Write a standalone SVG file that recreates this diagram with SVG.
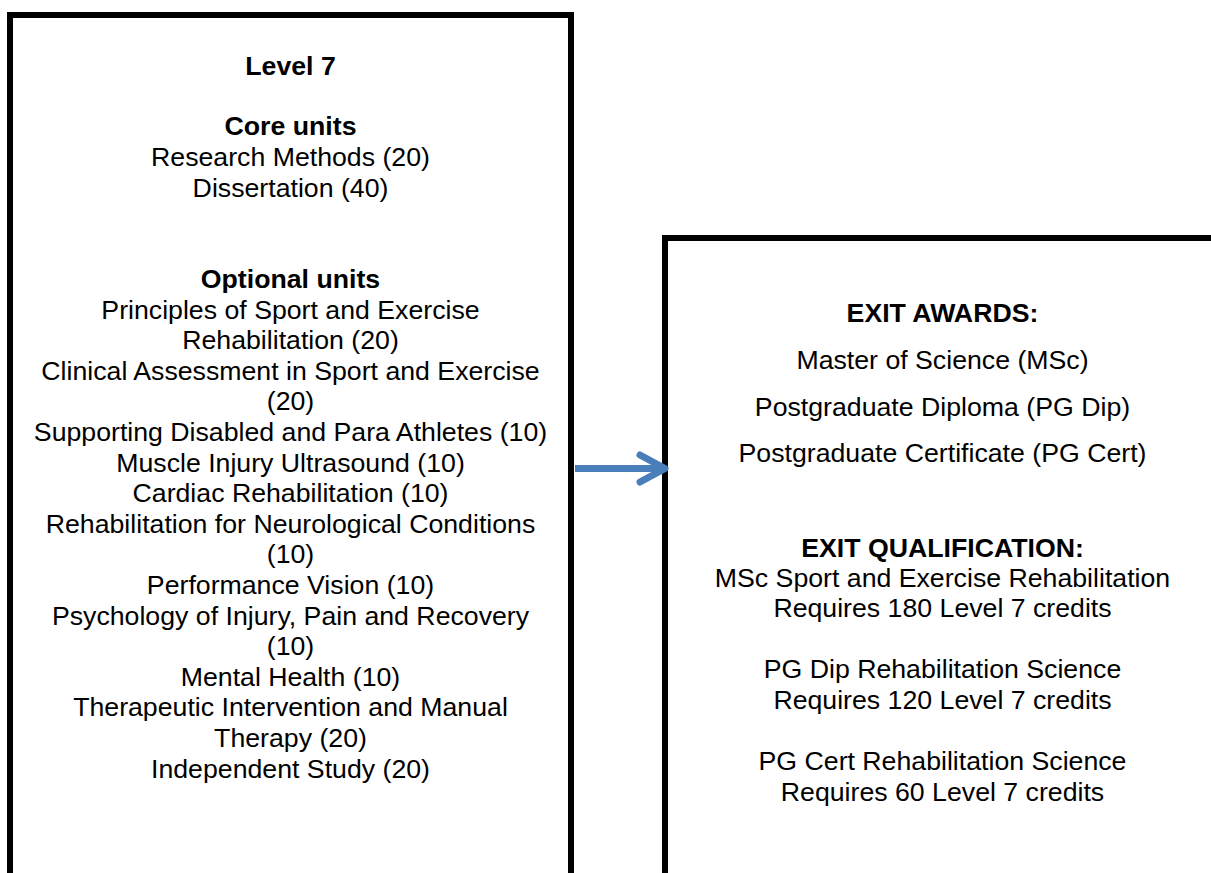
<svg xmlns="http://www.w3.org/2000/svg" width="1211" height="873" viewBox="0 0 1211 873">
<style>
.box{fill:#fff;stroke:#000;stroke-width:6}
text{font-family:"Liberation Sans",Arial,sans-serif;font-size:26.7px;fill:#000;text-anchor:middle}
.b{font-weight:bold}
.arr{fill:none;stroke:#4a7ebb;stroke-width:7}
</style>
<rect width="1211" height="873" fill="#fff"/>
<g id="level7">
<rect class="box" x="10" y="15" width="561" height="900"/>
<text x="290.5" y="75" class="b">Level 7</text>
<text x="290.5" y="135" class="b">Core units</text>
<text x="290.5" y="166">Research Methods (20)</text>
<text x="290.5" y="197">Dissertation (40)</text>
<text x="290.5" y="288" class="b">Optional units</text>
<text x="290.5" y="318.6">Principles of Sport and Exercise</text>
<text x="290.5" y="349.2">Rehabilitation (20)</text>
<text x="290.5" y="379.8">Clinical Assessment in Sport and Exercise</text>
<text x="290.5" y="410.4">(20)</text>
<text x="290.5" y="441">Supporting Disabled and Para Athletes (10)</text>
<text x="290.5" y="471.6">Muscle Injury Ultrasound (10)</text>
<text x="290.5" y="502.2">Cardiac Rehabilitation (10)</text>
<text x="290.5" y="532.8">Rehabilitation for Neurological Conditions</text>
<text x="290.5" y="563.4">(10)</text>
<text x="290.5" y="594">Performance Vision (10)</text>
<text x="290.5" y="624.6">Psychology of Injury, Pain and Recovery</text>
<text x="290.5" y="655.2">(10)</text>
<text x="290.5" y="685.8">Mental Health (10)</text>
<text x="290.5" y="716.4">Therapeutic Intervention and Manual</text>
<text x="290.5" y="747">Therapy (20)</text>
<text x="290.5" y="777.6">Independent Study (20)</text>
</g>
<g id="exit">
<rect class="box" x="665" y="238" width="560" height="700"/>
<text x="942.5" y="322" class="b">EXIT AWARDS:</text>
<text x="942.5" y="369">Master of Science (MSc)</text>
<text x="942.5" y="416">Postgraduate Diploma (PG Dip)</text>
<text x="942.5" y="462">Postgraduate Certificate (PG Cert)</text>
<text x="942.5" y="557" class="b">EXIT QUALIFICATION:</text>
<text x="942.5" y="587">MSc Sport and Exercise Rehabilitation</text>
<text x="942.5" y="617">Requires 180 Level 7 credits</text>
<text x="942.5" y="678">PG Dip Rehabilitation Science</text>
<text x="942.5" y="709">Requires 120 Level 7 credits</text>
<text x="942.5" y="770">PG Cert Rehabilitation Science</text>
<text x="942.5" y="801">Requires 60 Level 7 credits</text>
</g>
<g id="connectors">
<line class="arr" x1="575" y1="468.5" x2="662" y2="468.5"/>
<polyline class="arr" points="640,455 665,468.5 640,482" stroke-linecap="round" stroke-linejoin="round"/>
</g>
</svg>
